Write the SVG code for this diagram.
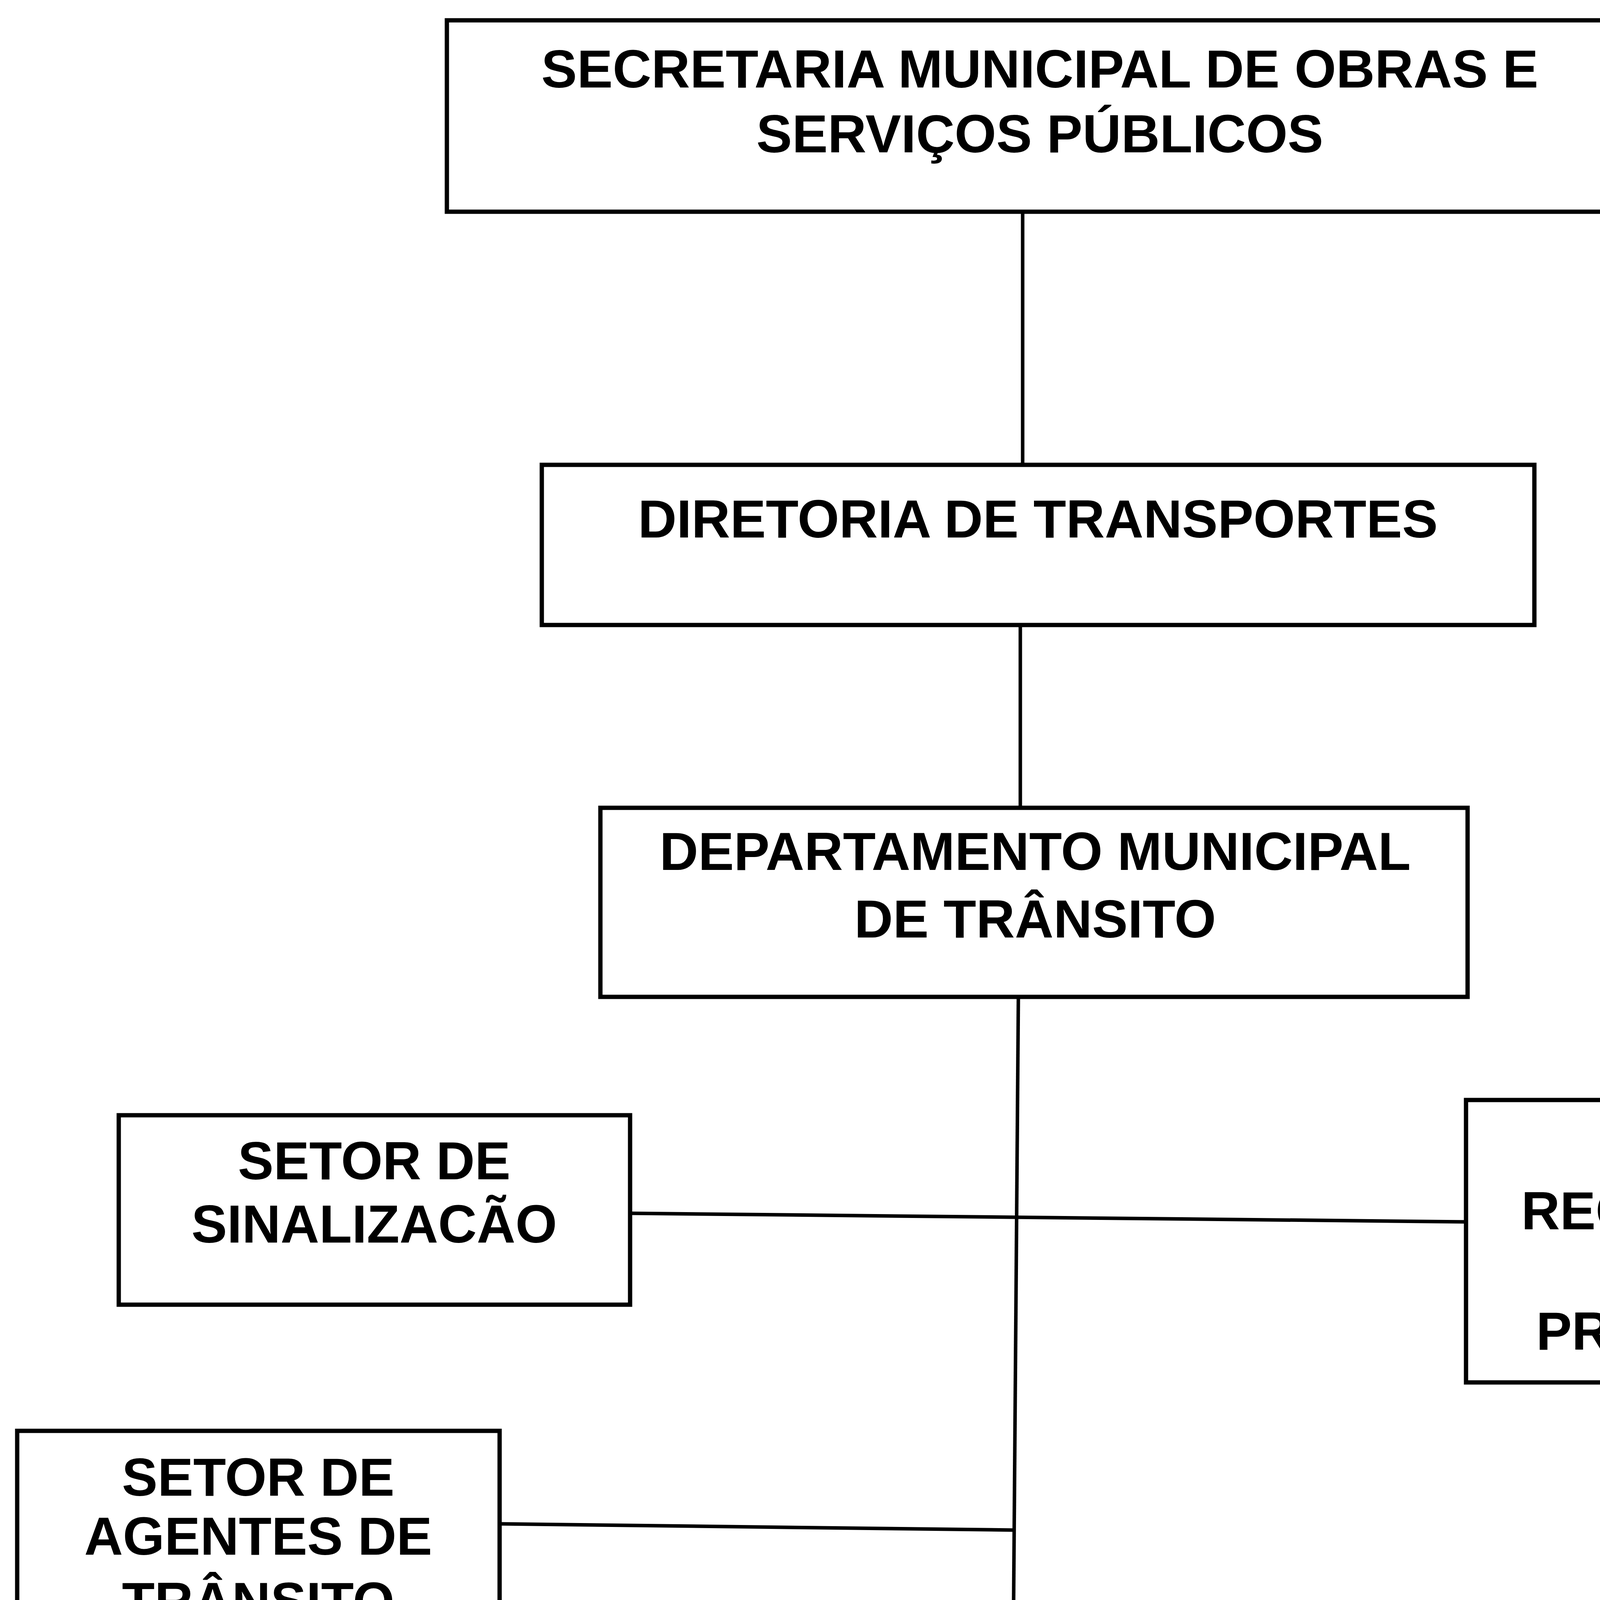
<svg xmlns="http://www.w3.org/2000/svg" width="5386" height="6085" viewBox="0 0 5386 6085">
<style>
.box{fill:#fff;stroke:#000;stroke-width:11}
.lbl{font-family:"Liberation Sans",Arial,sans-serif;font-weight:bold;font-size:137px;fill:#000;text-anchor:middle}
.big{font-size:154px}
.con{stroke:#000;stroke-width:9;fill:none}
</style>
<rect x="0" y="0" width="5386" height="6085" fill="#fff"/>
<g id="connectors">
<line class="con" x1="2618" y1="542" x2="2618" y2="1190"/>
<line class="con" x1="2612" y1="1600" x2="2612" y2="2068"/>
<path class="con" d="M2607 2552 L2590 4721"/>
<path class="con" d="M1613 3106 L3753 3128"/>
<path class="con" d="M1279 3901 L2595 3917"/>
<line class="con" x1="609" y1="4307" x2="609" y2="4705"/>
<line class="con" x1="2582" y1="5117" x2="2582" y2="5530"/>
</g>
<g id="secretaria">
<rect class="box" x="1144" y="52" width="3036" height="490"/>
<text class="lbl" x="2662" y="224">SECRETARIA MUNICIPAL DE OBRAS E</text>
<text class="lbl" x="2662" y="390">SERVIÇOS PÚBLICOS</text>
</g>
<g id="diretoria">
<rect class="box" x="1387" y="1190" width="2541" height="410"/>
<text class="lbl" x="2657" y="1376">DIRETORIA DE TRANSPORTES</text>
</g>
<g id="departamento">
<rect class="box" x="1537" y="2068" width="2220" height="484"/>
<text class="lbl" x="2650" y="2227">DEPARTAMENTO MUNICIPAL</text>
<text class="lbl" x="2650" y="2400">DE TRÂNSITO</text>
</g>
<g id="sinalizacao">
<rect class="box" x="304" y="2855" width="1309" height="485"/>
<text class="lbl" x="958" y="3019">SETOR DE</text>
<text class="lbl" x="958" y="3181">SINALIZACÃO</text>
</g>
<g id="recolhimento">
<rect class="box" x="3753" y="2816" width="1613" height="723"/>
<text class="lbl" x="4563" y="2981">SETOR DE</text>
<text class="lbl" x="4563" y="3147">RECOLHIMENTO DE</text>
<text class="lbl" x="4563" y="3299">MULTAS E</text>
<text class="lbl" x="4563" y="3455">PROCESSAMENTO</text>
</g>
<g id="setor-agentes">
<rect class="box" x="44" y="3663" width="1235" height="644"/>
<text class="lbl" x="661" y="3829">SETOR DE</text>
<text class="lbl" x="661" y="3980">AGENTES DE</text>
<text class="lbl" x="661" y="4147">TRÂNSITO</text>
</g>
<g id="agentes">
<rect class="box" x="34" y="4705" width="1233" height="401"/>
<text class="lbl" x="650" y="4875">AGENTES DE</text>
<text class="lbl" x="650" y="5025">TRÂNSITO</text>
</g>
<g id="atendimento">
<rect class="box" x="1674" y="4721" width="1817" height="396"/>
<text class="lbl" x="2582" y="4883">ATENDIMENTO AO</text>
<line x1="2083" y1="4806" x2="3203" y2="4806" stroke="#000" stroke-width="8"/>
<text class="lbl" x="2582" y="5033">PÚBLICO</text>
</g>
<g id="jari">
<rect class="box" x="1578" y="5530" width="2144" height="550"/>
<text class="lbl" x="2653" y="5706">JUNTA ADMINISTRATIVA DE</text>
<text class="lbl" x="2653" y="5865">RECURSOS DE INFRAÇÕES</text>
<text class="lbl big" x="2653" y="6036">JARI</text>
</g>
</svg>
